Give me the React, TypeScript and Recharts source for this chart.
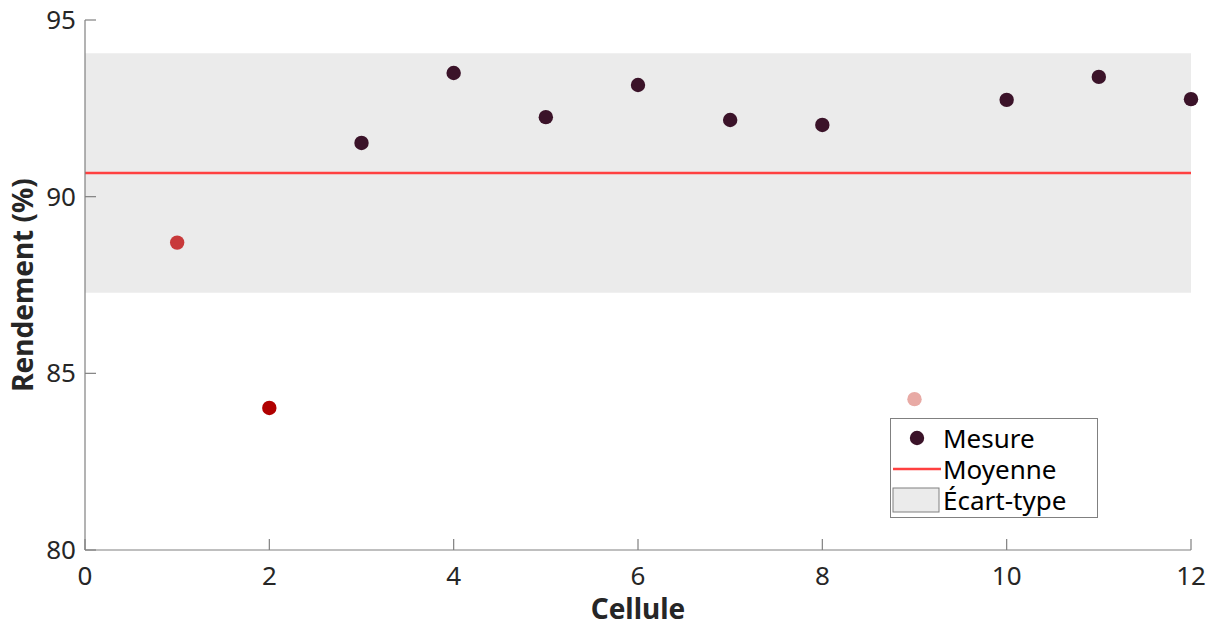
import React from 'react';
import { ScatterChart, Scatter, XAxis, YAxis, ReferenceArea, ReferenceLine, Legend } from 'recharts';

const cells = [1, 2, 3, 4, 5, 6, 7, 8, 9, 10, 11, 12];
const yields = [88.7, 84.02, 91.52, 93.5, 92.25, 93.16, 92.17, 92.03, 84.27, 92.74, 93.39, 92.76];
const pointColors = ['#c8393a', '#b00000', '#3b1329', '#3b1329', '#3b1329', '#3b1329', '#3b1329', '#3b1329', '#e8aaa5', '#3b1329', '#3b1329', '#3b1329'];
const meanYield = 90.67;
const stdYield = 3.39;
const xTicks = [0, 2, 4, 6, 8, 10, 12];
const yTicks = [80, 85, 90, 95];

const data = cells.map((c, i) => ({ x: c, y: yields[i], color: pointColors[i] }));

const AXIS = '#808080';
const TEXT = '#262626';
const FONT = '"Noto Sans", "Open Sans", sans-serif';

const BottomTick = (p: any) => (
  <g>
    <line x1={p.x} y1={p.y} x2={p.x} y2={p.y - 11} stroke={AXIS} strokeWidth={1.2} />
    <text x={p.x} y={p.y + 35} textAnchor="middle" fontSize={26} fill={TEXT} fontFamily={FONT}>{p.payload.value}</text>
  </g>
);
const TopTick = (p: any) => (
  <line x1={p.x} y1={p.y} x2={p.x} y2={p.y + 11} stroke={AXIS} strokeWidth={1.2} />
);
const LeftTick = (p: any) => (
  <g>
    <line x1={p.x} y1={p.y} x2={p.x + 11} y2={p.y} stroke={AXIS} strokeWidth={1.2} />
    <text x={p.x - 9} y={p.y + 9} textAnchor="end" fontSize={26} fill={TEXT} fontFamily={FONT}>{p.payload.value}</text>
  </g>
);
const RightTick = (p: any) => (
  <line x1={p.x} y1={p.y} x2={p.x - 11} y2={p.y} stroke={AXIS} strokeWidth={1.2} />
);

const XLabel = (p: any) => {
  const vb = p.viewBox;
  return (
    <text x={vb.x + vb.width / 2} y={vb.y + 69} textAnchor="middle" fontSize={28} fontWeight="bold" fill={TEXT} fontFamily={FONT}>Cellule</text>
  );
};
const YLabel = (p: any) => {
  const vb = p.viewBox;
  const cx = 33;
  const cy = vb.y + vb.height / 2;
  return (
    <text x={cx} y={cy} transform={`rotate(-90 ${cx} ${cy})`} textAnchor="middle" fontSize={28} fontWeight="bold" fill={TEXT} fontFamily={FONT}>Rendement (%)</text>
  );
};

const Dot = (p: any) => (
  <circle cx={p.cx} cy={p.cy} r={7.2} fill={p.payload.color} />
);

const rowStyle: React.CSSProperties = { display: 'flex', alignItems: 'center', height: 31 };

const LegendBox = () => (
  <div style={{ width: 208, height: 100, border: `1px solid ${AXIS}`, background: '#fff', fontFamily: FONT, fontSize: 26, color: '#000', boxSizing: 'border-box', paddingTop: 3, lineHeight: 1 }}>
    <div style={rowStyle}>
      <svg width={52} height={31}><circle cx={26} cy={16} r={7.2} fill="#3b1329" /></svg>
      <span>Mesure</span>
    </div>
    <div style={rowStyle}>
      <svg width={52} height={31}><line x1={2} y1={16} x2={50} y2={16} stroke="#ff4040" strokeWidth={2.5} /></svg>
      <span>Moyenne</span>
    </div>
    <div style={rowStyle}>
      <svg width={52} height={31}><rect x={2} y={4} width={46} height={24} fill="#ebebeb" stroke={AXIS} strokeWidth={1} /></svg>
      <span>Écart-type</span>
    </div>
  </div>
);

export default function App() {
  return (
    <div style={{ position: 'absolute', left: 0, top: 0, background: '#fff' }}>
      <ScatterChart width={1214} height={623} margin={{ top: 20, right: 23, left: 0, bottom: 0 }}>
        <ReferenceArea x1={0} x2={12} y1={meanYield - stdYield} y2={meanYield + stdYield} fill="#ebebeb" fillOpacity={1} stroke="none" />
        <ReferenceLine y={meanYield} stroke="#ff4040" strokeWidth={2.5} />
        <XAxis xAxisId={0} type="number" dataKey="x" domain={[0, 12]} ticks={xTicks} orientation="bottom" height={73}
          axisLine={{ stroke: AXIS, strokeWidth: 1.2 }} tickLine={false} tickSize={0} tickMargin={0} tick={<BottomTick />} label={<XLabel />} interval={0} />
        <XAxis xAxisId="top" type="number" dataKey="x" domain={[0, 12]} ticks={xTicks} orientation="top" height={0}
          axisLine={{ stroke: AXIS, strokeWidth: 1.2 }} tickLine={false} tickSize={0} tickMargin={0} tick={<TopTick />} interval={0} />
        <YAxis yAxisId={0} type="number" dataKey="y" domain={[80, 95]} ticks={yTicks} orientation="left" width={85}
          axisLine={{ stroke: AXIS, strokeWidth: 1.2 }} tickLine={false} tickSize={0} tickMargin={0} tick={<LeftTick />} label={<YLabel />} interval={0} />
        <YAxis yAxisId="right" type="number" dataKey="y" domain={[80, 95]} ticks={yTicks} orientation="right" width={0}
          axisLine={{ stroke: AXIS, strokeWidth: 1.2 }} tickLine={false} tickSize={0} tickMargin={0} tick={<RightTick />} interval={0} />
        <Scatter data={data} dataKey="y" fill="#3b1329" shape={<Dot />} isAnimationActive={false} />
        <Legend layout="vertical" align="center" verticalAlign="middle" content={<LegendBox />}
          wrapperStyle={{ position: 'absolute', left: 890, top: 418, width: 208, height: 100 }} />
      </ScatterChart>
    </div>
  );
}
